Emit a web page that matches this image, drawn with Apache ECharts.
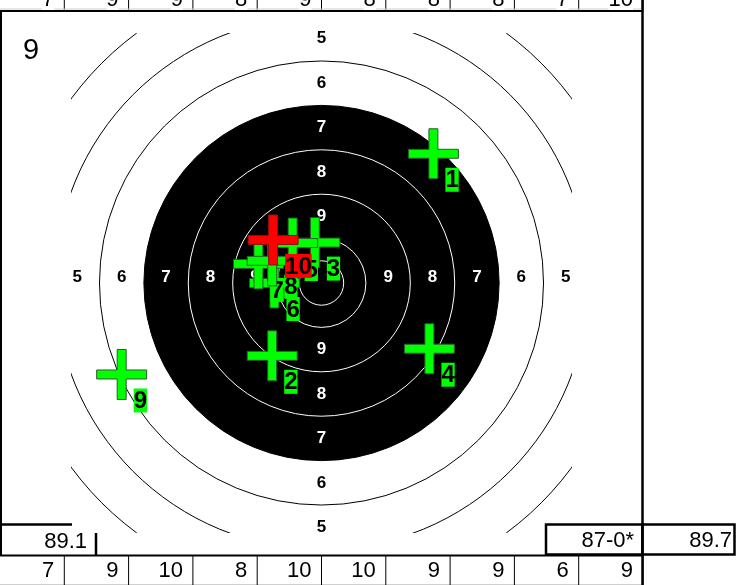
<!DOCTYPE html>
<html><head><meta charset="utf-8">
<script src="https://cdn.jsdelivr.net/npm/echarts@6/dist/echarts.min.js"></script>
<style>html,body{margin:0;padding:0;background:#fff}#c{width:739px;height:585px}</style>
</head><body><div id="c"></div>
<script>
// ---- data (target units: 1 unit = one ring width, centre = 0,0) ----
const shotNumbers = [1, 2, 3, 4, 5, 6, 7, 8, 9, 10];
const shotX = [2.52, -1.11, -0.15, 2.43, -0.65, -1.06, -1.42, -1.11, -4.50, -1.09];
const shotY = [2.91, -1.64, 0.91, -1.48, 0.90, 0.00, 0.43, 0.50, -2.06, 0.97];
const ringRadii = [8, 7, 6, 5, 4, 3, 2, 1, 0.5];
const ringLabelNumbers = [9, 8, 7, 6, 5];
const prevSeriesScores = [7, 9, 9, 8, 9, 8, 8, 8, 7, 10];
const shotScores = [7, 9, 10, 8, 10, 10, 9, 9, 6, 9];
const prevTotalLabel = '89.1';
const seriesTotalLabel = '87-0*';
const runningTotalLabel = '89.7';
const cornerLabel = '9';

// ---- rendering ----
const FONT = '"Liberation Sans", Arial, sans-serif';
const blackRadius = 4;
const chart = echarts.init(document.getElementById('c'), null, {renderer: 'canvas'});

const ringLabelData = [];
ringLabelNumbers.forEach(n => {
  const r = 10.5 - n;
  ringLabelData.push([-r, 0.13, n, r], [r, 0.13, n, r], [0, r, n, r], [0, -r, n, r]);
});

const colW = 64.3, tableRight = 643;
const g = [];
// top row (previous series)
prevSeriesScores.forEach((s, i) => {
  g.push({type: 'line', shape: {x1: colW * (i + 1), y1: 0, x2: colW * (i + 1), y2: 11}, style: {stroke: '#000', lineWidth: 1}});
});
g.push({type: 'line', shape: {x1: 0, y1: 9, x2: tableRight, y2: 9}, style: {stroke: '#cfcfcf', lineWidth: 1}});
prevSeriesScores.forEach((s, i) => {
  g.push({type: 'text', style: {text: String(s), x: colW * (i + 1) - 10, y: 0, align: 'right', verticalAlign: 'middle', font: '22px ' + FONT, fill: '#000', backgroundColor: '#fff'}});
});
g.push({type: 'line', shape: {x1: 0, y1: 11, x2: tableRight, y2: 11}, style: {stroke: '#000', lineWidth: 2}});
// left border
g.push({type: 'line', shape: {x1: 1, y1: 11, x2: 1, y2: 556}, style: {stroke: '#000', lineWidth: 2}});
// bottom row (this series)
g.push({type: 'line', shape: {x1: 0, y1: 584.5, x2: tableRight, y2: 584.5}, style: {stroke: '#cfcfcf', lineWidth: 1}});
shotScores.forEach((s, i) => {
  g.push({type: 'line', shape: {x1: colW * (i + 1), y1: 555, x2: colW * (i + 1), y2: 585}, style: {stroke: '#000', lineWidth: 1}});
  g.push({type: 'text', style: {text: String(s), x: colW * (i + 1) - 10, y: 571, align: 'right', verticalAlign: 'middle', font: '22px ' + FONT, fill: '#000', backgroundColor: '#fff'}});
});
g.push({type: 'line', shape: {x1: 0, y1: 555.5, x2: tableRight, y2: 555.5}, style: {stroke: '#000', lineWidth: 2}});
// left total box (partly under target area)
g.push({type: 'polyline', shape: {points: [[0, 524.5], [72, 524.5]]}, style: {stroke: '#000', lineWidth: 2.5, fill: null}});
g.push({type: 'polyline', shape: {points: [[96, 533], [96, 556]]}, style: {stroke: '#000', lineWidth: 2.5, fill: null}});
g.push({type: 'text', style: {text: prevTotalLabel, x: 87, y: 541.5, align: 'right', verticalAlign: 'middle', font: '22px ' + FONT, fill: '#000'}});
// right boxes
g.push({type: 'rect', shape: {x: 546, y: 524.5, width: 96.5, height: 30}, style: {stroke: '#000', lineWidth: 2.5, fill: '#fff'}});
g.push({type: 'rect', shape: {x: 642.5, y: 524.5, width: 92, height: 30}, style: {stroke: '#000', lineWidth: 2.5, fill: '#fff'}});
g.push({type: 'text', style: {text: seriesTotalLabel, x: 634, y: 540.5, align: 'right', verticalAlign: 'middle', font: '22px ' + FONT, fill: '#000'}});
g.push({type: 'text', style: {text: runningTotalLabel, x: 732, y: 540.5, align: 'right', verticalAlign: 'middle', font: '22px ' + FONT, fill: '#000'}});
// thick right divider
g.push({type: 'line', shape: {x1: 642.5, y1: 0, x2: 642.5, y2: 585}, style: {stroke: '#000', lineWidth: 2.5}});
// corner label
g.push({type: 'text', style: {text: cornerLabel, x: 23, y: 51, align: 'left', verticalAlign: 'middle', font: '29px ' + FONT, fill: '#000'}});

const option = {
  animation: false,
  backgroundColor: '#fff',
  grid: {left: 71.5, top: 33, width: 500, height: 500, show: false},
  xAxis: {type: 'value', min: -5.63, max: 5.63, show: false},
  yAxis: {type: 'value', min: -5.63, max: 5.63, show: false},
  graphic: {elements: g},
  series: [
    {
      type: 'custom', clip: true, z: 1,
      data: ringRadii.map(r => [r]),
      encode: {x: 0},
      renderItem: (params, api) => {
        const r = api.value(0);
        const c = api.coord([0, 0]);
        const rp = api.size([r, 0])[0];
        const filled = r === blackRadius;
        const inside = r < blackRadius;
        return {type: 'circle', shape: {cx: c[0], cy: c[1], r: rp},
          style: {fill: filled ? '#000' : null, stroke: inside ? '#fff' : '#000', lineWidth: 1}};
      }
    },
    {
      type: 'custom', clip: false, z: 2,
      data: ringLabelData,
      renderItem: (params, api) => {
        const p = api.coord([api.value(0), api.value(1)]);
        const r = api.value(3);
        return {type: 'text', style: {text: String(api.value(2)), x: p[0], y: p[1], align: 'center', verticalAlign: 'middle',
          font: 'bold 17px ' + FONT, fill: r < blackRadius ? '#fff' : '#000'}};
      }
    },
    {
      type: 'custom', z: 3,
      data: shotNumbers.map((n, i) => [shotX[i], shotY[i], n]),
      renderItem: (params, api) => {
        const p = api.coord([api.value(0), api.value(1)]);
        const txt = String(api.value(2));
        const last = params.dataIndex === shotNumbers.length - 1;
        const col = last ? '#ff0000' : '#00ff00';
        const h = 25, t = 4.5, x = p[0], y = p[1];
        const pts = [[x - t, y - h], [x + t, y - h], [x + t, y - t], [x + h, y - t], [x + h, y + t], [x + t, y + t],
          [x + t, y + h], [x - t, y + h], [x - t, y + t], [x - h, y + t], [x - h, y - t], [x - t, y - t]];
        const bw = 13.3 * txt.length, bh = 24;
        return {type: 'group', children: [
          {type: 'polygon', shape: {points: pts}, style: {fill: col, stroke: last ? '#8a1010' : '#2e5a2e', lineWidth: 1}},
          {type: 'rect', shape: {x: x + 12, y: y + 14, width: bw, height: bh}, style: {fill: col}},
          {type: 'text', style: {text: txt, x: x + 12 + bw / 2, y: y + 14 + bh / 2 + 1, align: 'center', verticalAlign: 'middle',
            font: 'bold 24px ' + FONT, fill: '#000'}}
        ]};
      }
    }
  ]
};
chart.setOption(option);
</script>
</body></html>
